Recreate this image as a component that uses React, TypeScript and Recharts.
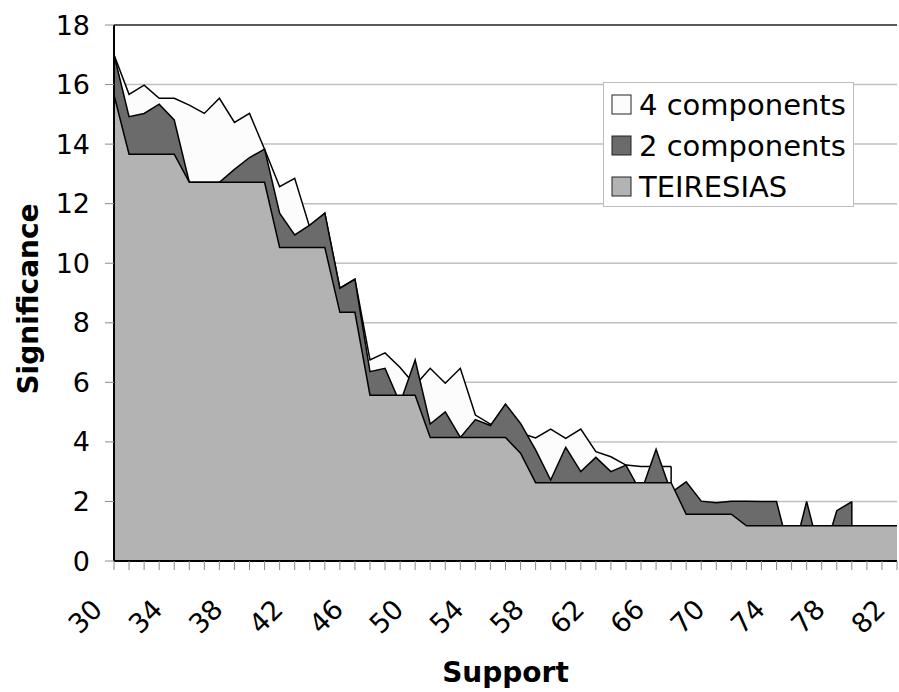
import React from 'react';
import { AreaChart, Area, XAxis, YAxis, CartesianGrid, ReferenceLine } from 'recharts';

const support = [
  30, 31, 32, 33, 34, 35, 36, 37, 38, 39, 40, 41, 42, 43, 44, 45, 46, 47, 48, 49,
  50, 51, 52, 53, 54, 55, 56, 57, 58, 59, 60, 61, 62, 63, 64, 65, 66, 67, 68, 69,
  70, 71, 72, 73, 74, 75, 76, 77, 78, 79, 80, 81, 82,
];
const xTickLabels = [30, 34, 38, 42, 46, 50, 54, 58, 62, 66, 70, 74, 78, 82];
const yTicks = [0, 2, 4, 6, 8, 10, 12, 14, 16, 18];

const teiresias = [
  15.65, 13.66, 13.66, 13.66, 13.66, 12.72, 12.72, 12.72, 12.72, 12.72,
  12.72, 10.53, 10.53, 10.53, 10.53, 8.35, 8.35, 5.57, 5.57, 5.57,
  5.57, 4.15, 4.15, 4.15, 4.15, 4.15, 4.15, 3.62, 2.63, 2.63,
  2.63, 2.63, 2.63, 2.63, 2.63, 2.63, 2.63, 2.63, 1.57, 1.57,
  1.57, 1.57, 1.18, 1.18, 1.18, 1.18, 1.18, 1.18, 1.18, 1.18,
  1.18, 1.18, 1.18,
];

const twoComponents: (number | null)[] = [
  17.0, 14.92, 15.03, 15.34, 14.81, 12.72, 12.72, 12.72, 13.15, 13.55,
  13.83, 11.68, 10.95, 11.28, 11.68, 9.16, 9.46, 6.36, 6.47, 5.3,
  6.75, 4.6, 5.01, 4.15, 4.75, 4.55, 5.27, 4.62, 3.73, 2.72,
  3.82, 3.0, 3.48, 3.0, 3.22, 2.3, 3.75, 2.3, 2.66, 2.01,
  1.96, 2.01, 2.01, 2.0, 2.0, 0, 2.0, 0, 1.69, 1.99,
  null, null, null,
];

const fourComponents: (number | null)[] = [
  17.0, 15.67, 15.98, 15.54, 15.54, 15.31, 15.03, 15.54, 14.73, 15.03,
  13.83, 12.57, 12.85, 11.2, 11.68, 9.16, 9.46, 6.75, 6.99, 6.5,
  5.9, 6.47, 5.97, 6.47, 4.9, 4.6, 4.4, 4.3, 4.13, 4.43,
  4.12, 4.43, 3.67, 3.5, 3.22, 3.17, 3.17, 3.17, null, null,
  null, null, null, null, null, null, null, null, null, null,
  null, null, null,
];

const seriesInfo = [
  { key: 'four', name: '4 components', fill: '#fcfcfc' },
  { key: 'two', name: '2 components', fill: '#6b6b6b' },
  { key: 'teiresias', name: 'TEIRESIAS', fill: '#b3b3b3' },
];

const data = support.map((s, i) => ({
  support: s,
  four: fourComponents[i],
  two: twoComponents[i],
  teiresias: teiresias[i],
}));

function lastIndex(arr: (number | null)[]) {
  let k = -1;
  arr.forEach((v, i) => {
    if (v !== null && v !== undefined) k = i;
  });
  return k;
}
const twoEnd = lastIndex(twoComponents);
const fourEnd = lastIndex(fourComponents);
const twoEndSeg = [
  { x: support[twoEnd], y: teiresias[twoEnd] },
  { x: support[twoEnd], y: twoComponents[twoEnd] as number },
];
const fourEndSeg = [
  { x: support[fourEnd], y: Math.max(teiresias[fourEnd], (twoComponents[fourEnd] as number) ?? 0) },
  { x: support[fourEnd], y: fourComponents[fourEnd] as number },
];

const FONT = 'DejaVu Sans';

const XTick = (props: any) => {
  const { x, y, payload } = props;
  if (!xTickLabels.includes(payload.value)) return <g />;
  const ax = x - 10;
  const ay = y + 39;
  return (
    <text
      x={ax}
      y={ay}
      textAnchor="end"
      transform={`rotate(-45 ${ax} ${ay})`}
      fontSize={27}
      fontFamily={FONT}
      fill="#000"
    >
      {payload.value}
    </text>
  );
};

const XTitle = () => (
  <text x={505.5} y={682} textAnchor="middle" fontSize={28} fontWeight={700} fontFamily={FONT} fill="#000">
    Support
  </text>
);

const YTitle = () => (
  <text
    x={38}
    y={299}
    transform="rotate(-90 38 299)"
    textAnchor="middle"
    fontSize={28}
    fontWeight={700}
    fontFamily={FONT}
    fill="#000"
  >
    Significance
  </text>
);

const LegendBox = () => (
  <div
    style={{
      position: 'absolute',
      left: 603,
      top: 82,
      width: 251,
      height: 125,
      boxSizing: 'border-box',
      border: '1px solid #bdbdbd',
      background: '#fff',
    }}
  >
    <svg width={249} height={123} style={{ display: 'block' }}>
      {seriesInfo.map((s, i) => (
        <g key={s.key}>
          <rect x={8} y={12 + i * 41} width={19} height={19} fill={s.fill} stroke="#222" strokeWidth={1} />
          <text x={35} y={32 + i * 41} fontSize={29} fontFamily={FONT} fill="#000">
            {s.name}
          </text>
        </g>
      ))}
    </svg>
  </div>
);

export default function App() {
  return (
    <div style={{ position: 'absolute', left: 0, top: 0, width: 899, height: 692, background: '#fff' }}>
      <AreaChart width={899} height={692} data={data} margin={{ top: 25, right: 2, left: 0, bottom: 0 }}>
        <CartesianGrid vertical={false} stroke="#c0c0c0" strokeWidth={1.5} />
        <XAxis
          dataKey="support"
          type="category"
          interval={0}
          height={131}
          tickSize={9}
          tickMargin={2}
          tick={<XTick />}
          tickLine={{ stroke: '#8c8c8c', strokeWidth: 1 }}
          axisLine={{ stroke: '#000', strokeWidth: 2 }}
          label={<XTitle />}
        />
        <YAxis
          domain={[0, 18]}
          ticks={yTicks}
          width={114}
          tickSize={9}
          tickMargin={15}
          tick={{ fontSize: 27, fill: '#000', fontFamily: FONT }}
          tickLine={{ stroke: '#8c8c8c', strokeWidth: 1 }}
          axisLine={{ stroke: '#000', strokeWidth: 2 }}
          label={<YTitle />}
        />
        <ReferenceLine y={18} stroke="#333" strokeWidth={1.5} />
        {seriesInfo.map((s) => (
          <Area
            key={s.key}
            type="linear"
            dataKey={s.key}
            name={s.name}
            fill={s.fill}
            fillOpacity={1}
            stroke="#000"
            strokeWidth={1.5}
            dot={false}
            activeDot={false}
            connectNulls={false}
            isAnimationActive={false}
          />
        ))}
        <ReferenceLine segment={twoEndSeg} stroke="#000" strokeWidth={1.5} />
        <ReferenceLine segment={fourEndSeg} stroke="#000" strokeWidth={1.5} />
      </AreaChart>
      <LegendBox />
    </div>
  );
}
